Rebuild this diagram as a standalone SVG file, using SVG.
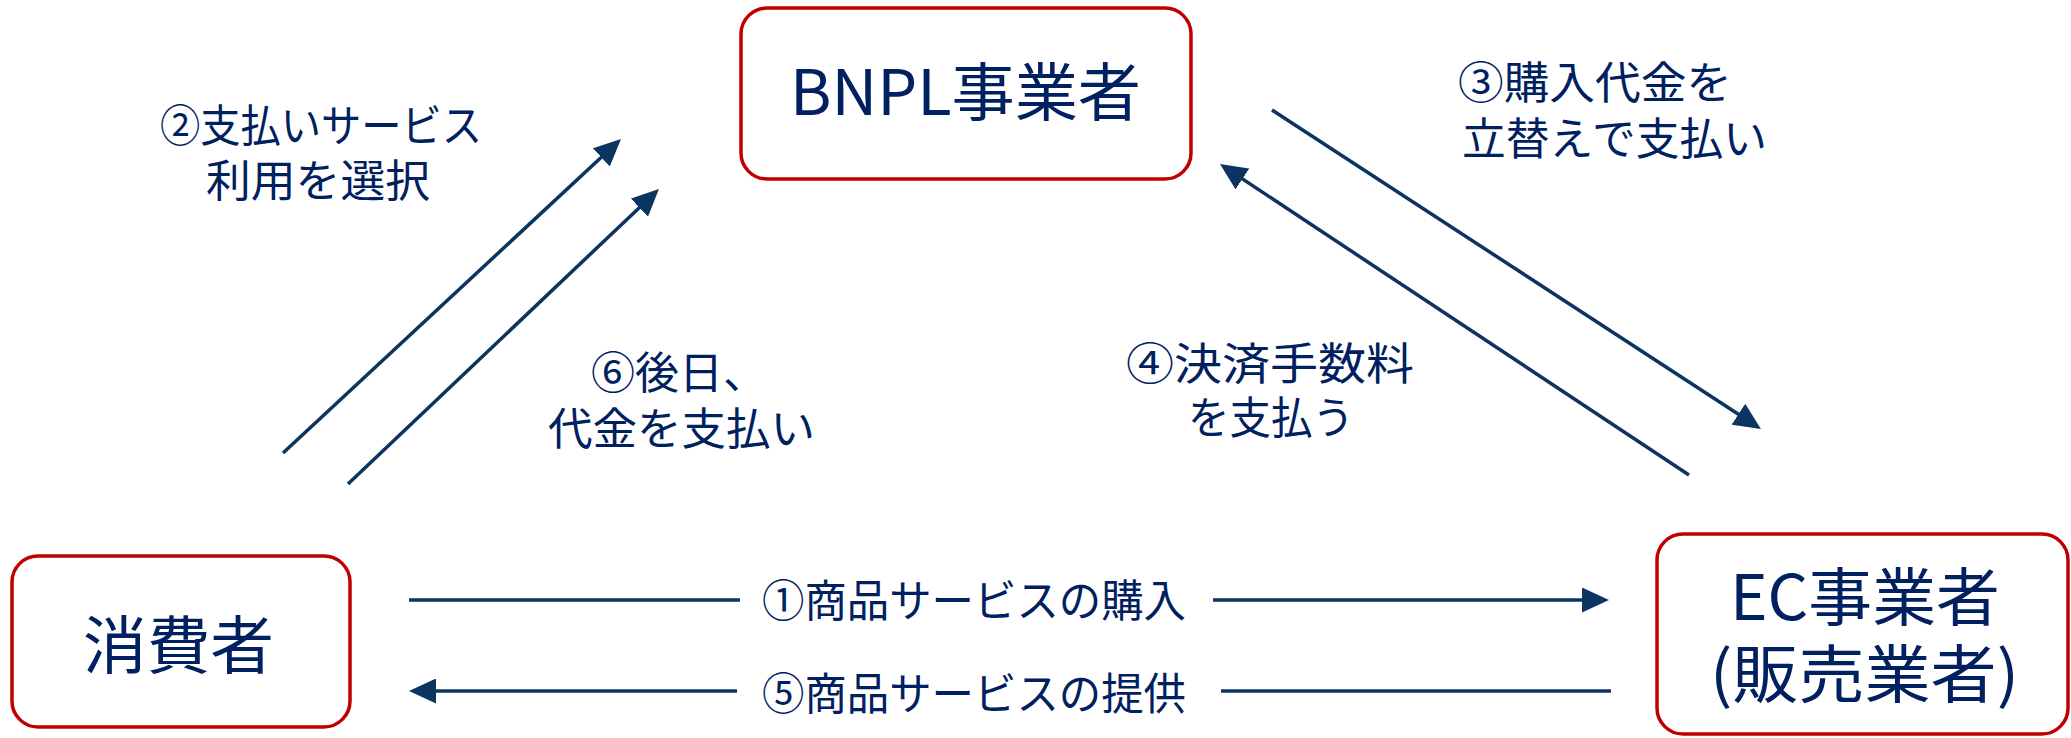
<svg xmlns="http://www.w3.org/2000/svg" width="2071" height="738" viewBox="0 0 2071 738">
<style>
.box{fill:#ffffff;stroke:#C00000;stroke-width:3.5}
.bt{font-family:"Noto Sans CJK JP","Noto Sans",sans-serif;font-size:63px;fill:#002060}
.lb{font-family:"Noto Sans CJK JP","Noto Sans",sans-serif;font-size:44px;fill:#002060}
.ln{stroke:#0C3461;stroke-width:3.5;fill:none}
</style>
<defs>
<marker id="ah" markerUnits="userSpaceOnUse" markerWidth="27" markerHeight="25" refX="17" refY="12.5" orient="auto" viewBox="0 0 27 25">
<path d="M0,0 L27,12.5 L0,25 z" fill="#0C3461"/>
</marker>
</defs>
<rect width="2071" height="738" fill="#ffffff"/>
<g id="bnpl">
<rect class="box" x="741" y="8" width="450" height="171" rx="26"/>
<text class="bt" x="790" y="115" textLength="351" lengthAdjust="spacingAndGlyphs">BNPL事業者</text>
</g>
<g id="consumer">
<rect class="box" x="12" y="556" width="338" height="171" rx="26"/>
<text class="bt" x="83" y="668" textLength="191" lengthAdjust="spacingAndGlyphs">消費者</text>
</g>
<g id="ec">
<rect class="box" x="1657" y="534" width="411" height="200" rx="26"/>
<text class="bt"><tspan x="1730" y="620" textLength="270" lengthAdjust="spacingAndGlyphs">EC事業者</tspan><tspan x="1710" y="697" textLength="309" lengthAdjust="spacingAndGlyphs">(販売業者)</tspan></text>
</g>
<g id="connectors">
<line class="ln" x1="409" y1="600" x2="740" y2="600"/>
<line class="ln" x1="1213" y1="600" x2="1599" y2="600" marker-end="url(#ah)"/>
<line class="ln" x1="737" y1="691" x2="419" y2="691" marker-end="url(#ah)"/>
<line class="ln" x1="1221" y1="691" x2="1611" y2="691"/>
<line class="ln" x1="283" y1="453" x2="613.7" y2="145.8" marker-end="url(#ah)"/>
<line class="ln" x1="348" y1="484" x2="651.7" y2="195.9" marker-end="url(#ah)"/>
<line class="ln" x1="1272" y1="110" x2="1752.6" y2="423.5" marker-end="url(#ah)"/>
<line class="ln" x1="1689" y1="475" x2="1228.3" y2="169.5" marker-end="url(#ah)"/>
</g>
<g id="labels">
<text class="lb" x="762" y="617" textLength="424" lengthAdjust="spacingAndGlyphs">①商品サービスの購入</text>
<text class="lb" x="762" y="710" textLength="424" lengthAdjust="spacingAndGlyphs">⑤商品サービスの提供</text>
<text class="lb"><tspan x="160" y="142" textLength="322" lengthAdjust="spacingAndGlyphs">②支払いサービス</tspan><tspan x="206" y="197" textLength="224" lengthAdjust="spacingAndGlyphs">利用を選択</tspan></text>
<text class="lb"><tspan x="591" y="389" textLength="176" lengthAdjust="spacingAndGlyphs">⑥後日、</tspan><tspan x="548" y="445" textLength="267" lengthAdjust="spacingAndGlyphs">代金を支払い</tspan></text>
<text class="lb"><tspan x="1458" y="99" textLength="274" lengthAdjust="spacingAndGlyphs">③購入代金を</tspan><tspan x="1462" y="155" textLength="305" lengthAdjust="spacingAndGlyphs">立替えで支払い</tspan></text>
<text class="lb"><tspan x="1126" y="380" textLength="288" lengthAdjust="spacingAndGlyphs">④決済手数料</tspan><tspan x="1188" y="434" textLength="166" lengthAdjust="spacingAndGlyphs">を支払う</tspan></text>
</g>
</svg>
